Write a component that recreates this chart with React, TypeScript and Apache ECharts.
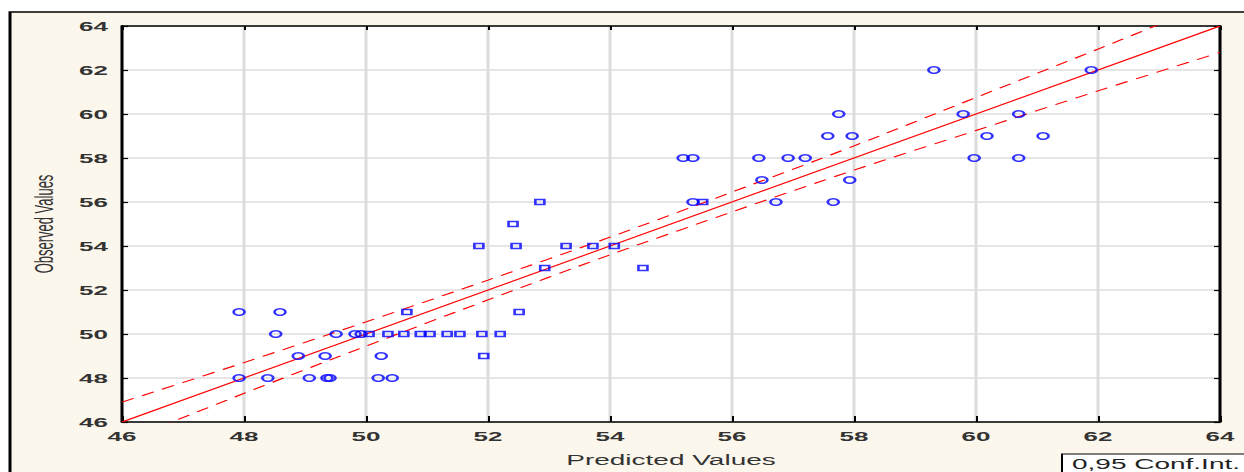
import React, { useEffect, useRef } from "react";
import * as echarts from "echarts";

// Observed vs. predicted values, split by the marker shape they are drawn with
const circlePoints: [number, number][] = [
  [47.92, 51], [48.59, 51],
  [48.52, 50], [49.51, 50], [49.82, 50], [49.92, 50],
  [48.89, 49], [49.33, 49], [50.25, 49],
  [47.92, 48], [48.39, 48], [49.07, 48], [49.36, 48], [49.41, 48], [50.2, 48], [50.43, 48],
  [55.36, 56], [56.72, 56], [57.66, 56],
  [56.49, 57], [57.93, 57],
  [55.2, 58], [55.36, 58], [56.44, 58], [56.92, 58], [57.2, 58], [59.97, 58], [60.7, 58],
  [57.57, 59], [57.97, 59], [60.18, 59], [61.1, 59],
  [57.75, 60], [59.79, 60], [60.7, 60],
  [59.31, 62], [61.89, 62],
];

const squarePoints: [number, number][] = [
  [50.67, 51], [52.51, 51],
  [50.05, 50], [50.36, 50], [50.62, 50], [50.89, 50], [51.05, 50], [51.33, 50],
  [51.54, 50], [51.9, 50], [52.2, 50],
  [51.93, 49],
  [52.93, 53], [54.54, 53],
  [51.85, 54], [52.46, 54], [53.28, 54], [53.72, 54], [54.07, 54],
  [52.41, 55],
  [52.85, 56], [55.52, 56],
];

// Regression line and its 0.95 confidence band
const fitX = [46, 64];
const fitY = [46, 64];
const bandX = [46, 48, 50, 52, 54, 56, 58, 60, 62, 64];
const bandUpper = [46.9, 48.7, 50.55, 52.45, 54.4, 56.45, 58.55, 60.75, 62.95, 65.2];
const bandLower = [45.1, 47.3, 49.45, 51.55, 53.6, 55.55, 57.45, 59.25, 61.05, 62.8];

const axisMin = 46;
const axisMax = 64;
const axisStep = 2;

const xName = "Predicted Values";
const yName = "Observed Values";
const bandName = "0,95 Conf.Int.";

const FONT = "'Liberation Sans', Arial, sans-serif";
const BLUE = "#0000ff";
const RED = "#ff0000";

export default function App() {
  const ref = useRef<HTMLDivElement>(null);

  useEffect(() => {
    if (!ref.current) return;
    const chart = echarts.init(ref.current, undefined, { renderer: "svg" });

    const baseAxis = {
      type: "value" as const,
      min: axisMin,
      max: axisMax,
      interval: axisStep,
    };

    chart.setOption({
      animation: false,
      backgroundColor: "#ffffff",
      textStyle: { fontFamily: FONT },
      graphic: [
        {
          type: "rect",
          z: -10,
          shape: { x: 5, y: 12, width: 700, height: 520 },
          style: { fill: "#fcf7ec", stroke: "#000", lineWidth: 1.5 },
        },
      ],
      grid: {
        left: 61,
        top: 26,
        width: 549,
        height: 396,
        show: true,
        backgroundColor: "#ffffff",
        borderWidth: 0,
      },
      legend: {
        data: [{ name: bandName, icon: "none" }],
        left: 531,
        top: 454,
        itemWidth: 0,
        itemHeight: 0,
        itemGap: 0,
        selectedMode: false,
        backgroundColor: "#ffffff",
        borderColor: "#000",
        borderWidth: 1,
        padding: [3, 6, 6, 0],
        textStyle: { fontSize: 14, color: "#222", fontFamily: FONT },
      },
      xAxis: [
        {
          ...baseAxis,
          position: "bottom",
          name: xName,
          nameLocation: "middle",
          nameGap: 31,
          nameTextStyle: { fontSize: 14, color: "#333", fontFamily: FONT },
          axisLine: { show: true, lineStyle: { color: "#000", width: 1.5 } },
          axisTick: { show: true, inside: true, length: 6, lineStyle: { color: "#000", width: 1 } },
          axisLabel: { margin: 8, fontSize: 13, fontWeight: "bold", color: "#333", fontFamily: FONT },
          splitLine: { show: true, lineStyle: { color: "#dcdcdc", width: 1.5 } },
        },
        {
          ...baseAxis,
          position: "top",
          axisLine: { show: true, lineStyle: { color: "#000", width: 1.5 } },
          axisTick: { show: true, inside: true, length: 4, lineStyle: { color: "#000", width: 1 } },
          axisLabel: { show: false },
          splitLine: { show: false },
        },
      ],
      yAxis: [
        {
          ...baseAxis,
          position: "left",
          name: yName,
          nameLocation: "middle",
          nameRotate: 90,
          nameGap: 33,
          nameTextStyle: { fontSize: 13, color: "#333", fontFamily: FONT },
          axisLine: { show: true, lineStyle: { color: "#000", width: 1.5 } },
          axisTick: { show: true, inside: true, length: 3, lineStyle: { color: "#000", width: 1.2 } },
          axisLabel: { margin: 7, fontSize: 13, fontWeight: "bold", color: "#333", fontFamily: FONT },
          splitLine: { show: true, lineStyle: { color: "#dcdcdc", width: 1.5 } },
        },
        {
          ...baseAxis,
          position: "right",
          axisLine: { show: true, lineStyle: { color: "#000", width: 1.5 } },
          axisTick: { show: true, inside: true, length: 3, lineStyle: { color: "#000", width: 1.2 } },
          axisLabel: { show: false },
          splitLine: { show: false },
        },
      ],
      series: [
        {
          name: "fit",
          type: "line",
          xAxisIndex: 0,
          yAxisIndex: 0,
          data: fitX.map((x, i) => [x, fitY[i]]),
          showSymbol: false,
          lineStyle: { color: RED, width: 1 },
          z: 3,
        },
        {
          name: bandName,
          type: "line",
          xAxisIndex: 0,
          yAxisIndex: 0,
          data: bandX.map((x, i) => [x, bandUpper[i]]),
          smooth: 0.3,
          showSymbol: false,
          itemStyle: { color: RED },
          lineStyle: { color: RED, width: 1, type: [7, 5] },
          z: 3,
        },
        {
          name: bandName,
          type: "line",
          xAxisIndex: 0,
          yAxisIndex: 0,
          data: bandX.map((x, i) => [x, bandLower[i]]),
          smooth: 0.3,
          showSymbol: false,
          itemStyle: { color: RED },
          lineStyle: { color: RED, width: 1, type: [7, 5] },
          z: 3,
        },
        {
          name: "circles",
          type: "scatter",
          xAxisIndex: 0,
          yAxisIndex: 0,
          data: circlePoints,
          symbol: "circle",
          symbolSize: [5.5, 6.5],
          itemStyle: { color: "rgba(0,0,0,0)", borderColor: BLUE, borderWidth: 1.4 },
          z: 4,
        },
        {
          name: "squares",
          type: "scatter",
          xAxisIndex: 0,
          yAxisIndex: 0,
          data: squarePoints,
          symbol: "rect",
          symbolSize: [4.5, 5],
          itemStyle: { color: "rgba(0,0,0,0)", borderColor: BLUE, borderWidth: 1.4 },
          z: 4,
        },
      ],
    });

    return () => chart.dispose();
  }, []);

  return (
    <div
      style={{
        position: "absolute",
        left: 0,
        top: 0,
        width: 1244,
        height: 472,
        overflow: "hidden",
        background: "#ffffff",
      }}
    >
      {/* The plot is laid out at half width and widened horizontally */}
      <div
        ref={ref}
        style={{
          width: 622,
          height: 472,
          transform: "scaleX(2)",
          transformOrigin: "0 0",
        }}
      />
    </div>
  );
}
